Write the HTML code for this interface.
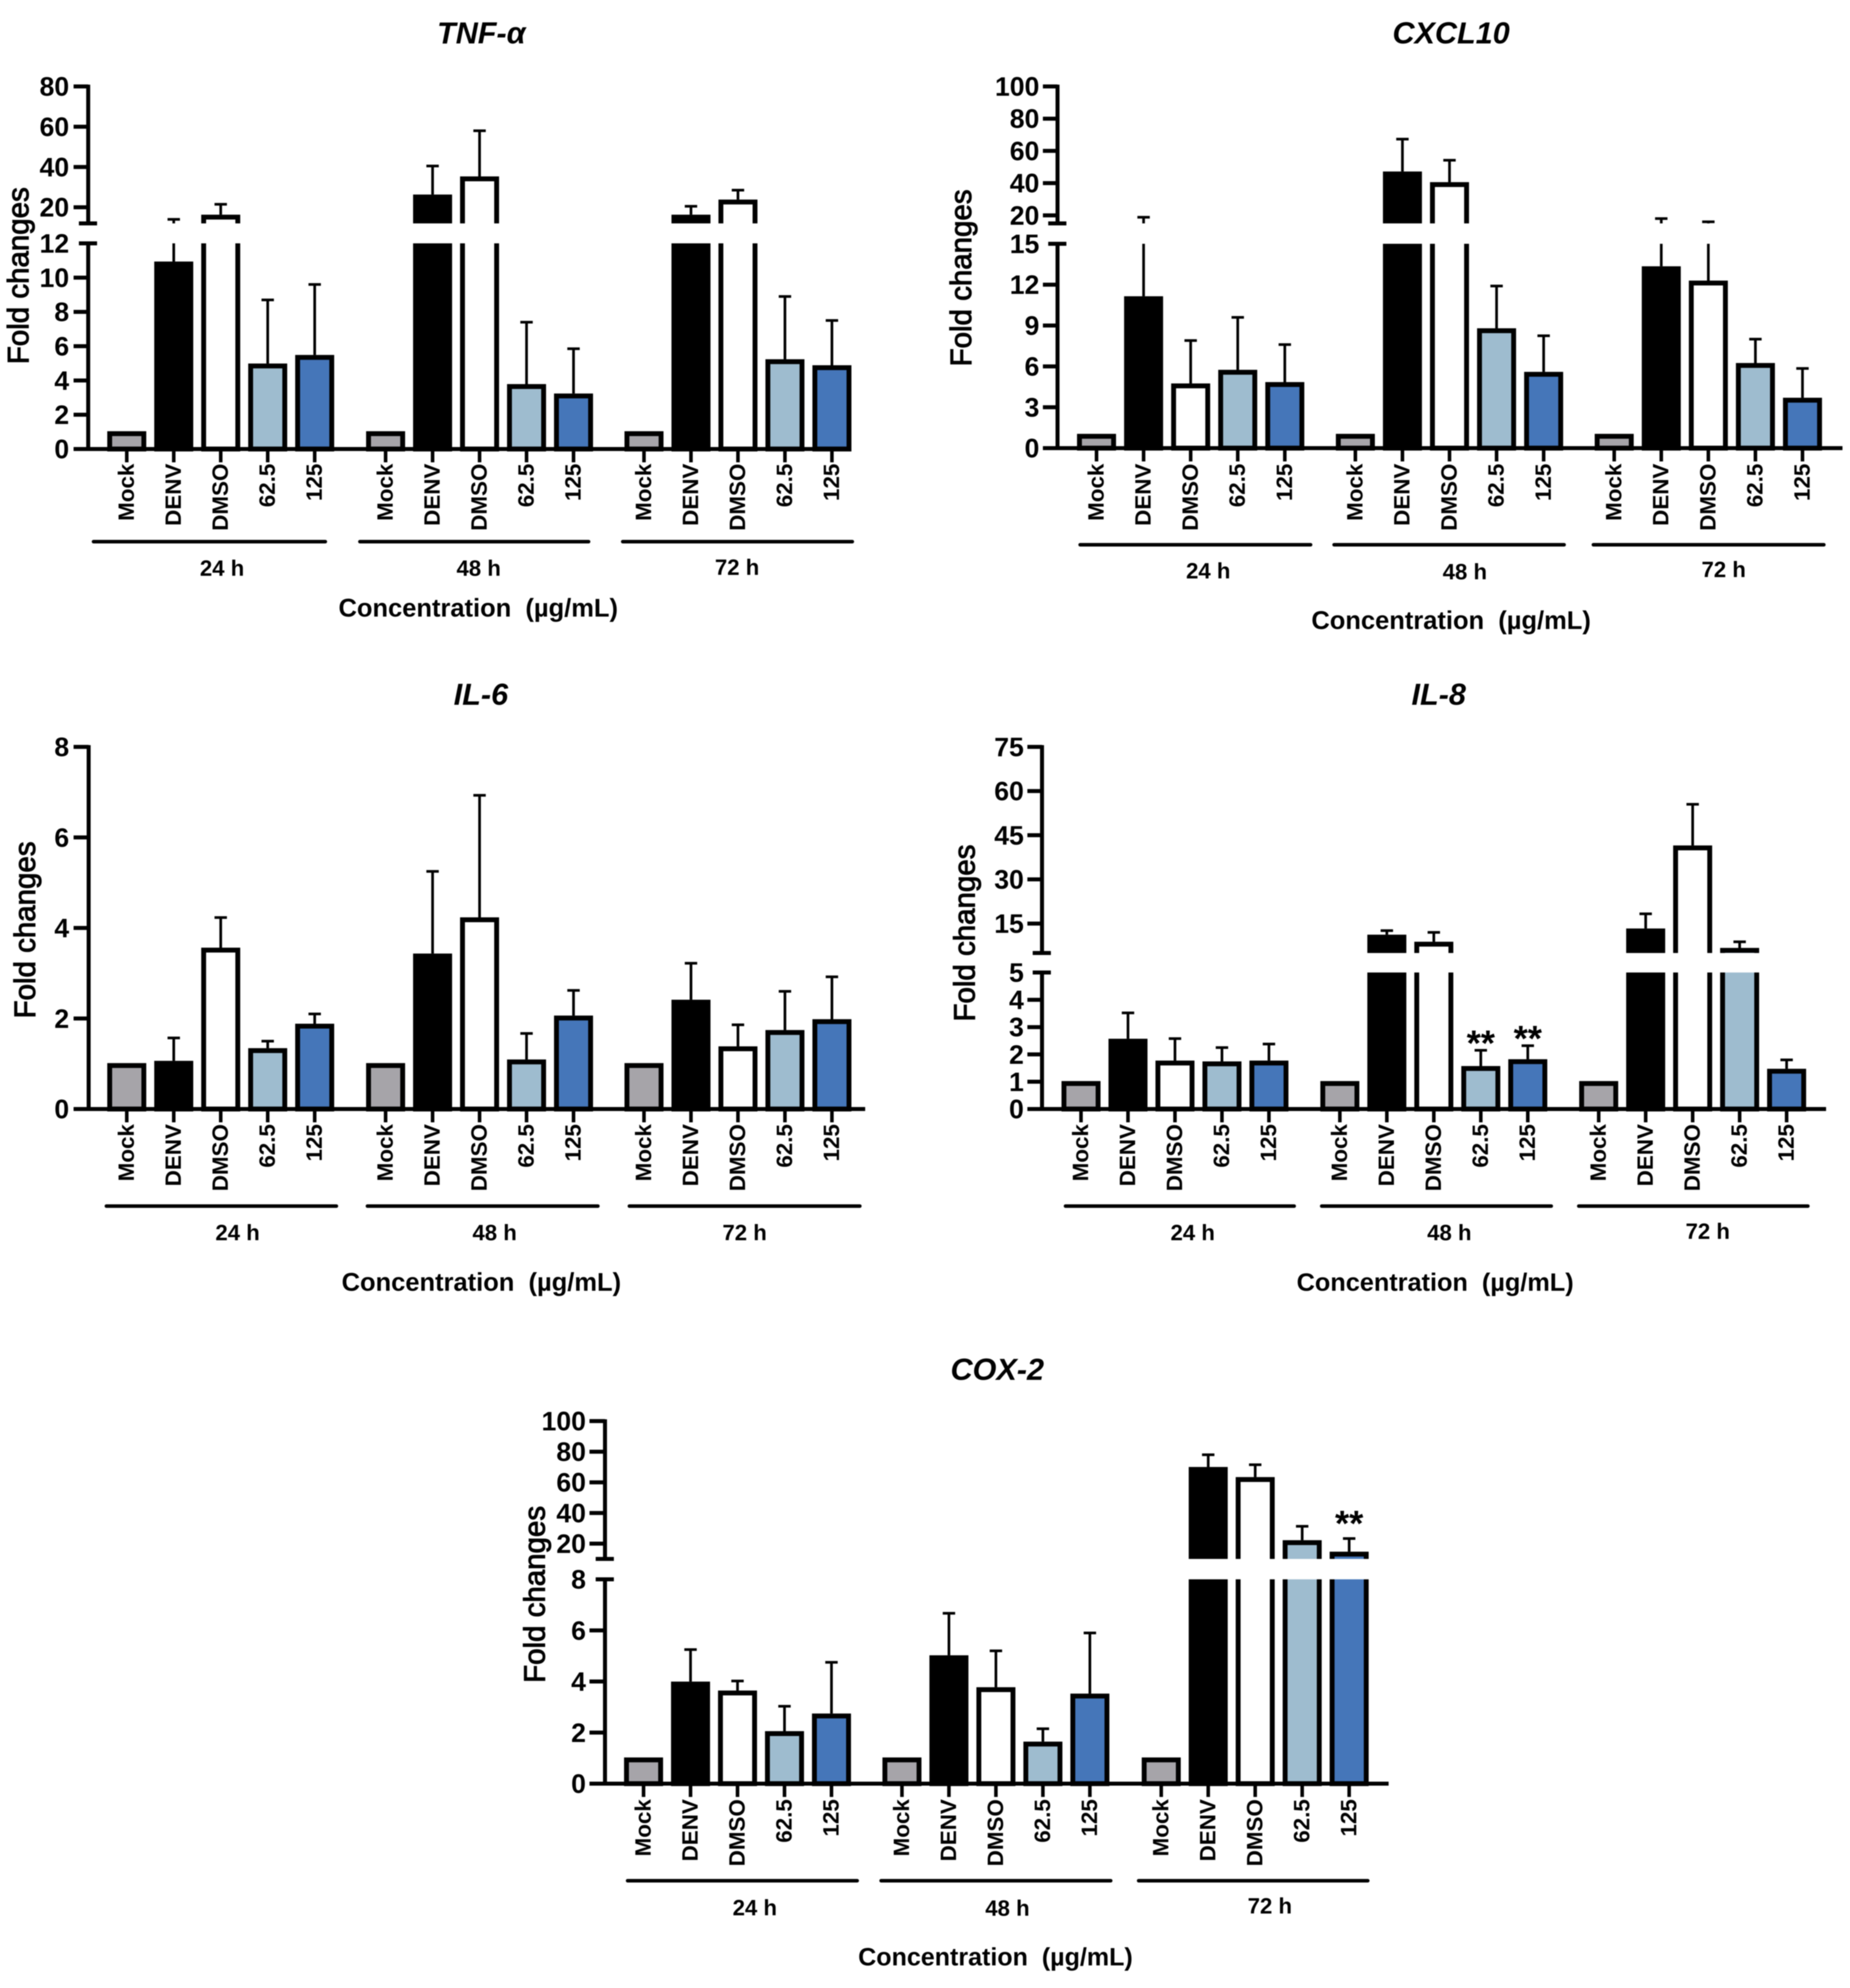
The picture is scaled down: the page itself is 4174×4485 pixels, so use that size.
<!DOCTYPE html>
<html lang="en">
<head>
<meta charset="utf-8">
<title>Fold changes of cytokines</title>
<style>
html,body{margin:0;padding:0;background:#fff;}
svg{display:block;filter:blur(1px);}
text{font-family:"Liberation Sans",sans-serif;fill:#000;}
.title{font-size:69px;font-weight:bold;font-style:italic;text-anchor:middle;}
.ytitle{font-size:66.5px;text-anchor:middle;stroke:#000;stroke-width:2px;}
.xtitle{font-size:57.5px;font-weight:bold;text-anchor:middle;}
.group{font-size:50px;font-weight:bold;text-anchor:middle;}
.gline{stroke:#000;stroke-width:8;stroke-linecap:round;}
</style>
</head>
<body>
<svg id="figure" xmlns="http://www.w3.org/2000/svg" width="4174" height="4485" viewBox="0 0 4174 4485">
<rect width="4174" height="4485" fill="#fff"/>

<g id="tnf">
<text class="title" x="1086" y="98">TNF-α</text>
<text class="ytitle" transform="translate(64,622) rotate(-90)">Fold changes</text>
<line class="gline" x1="211" y1="1222" x2="734" y2="1222"/>
<line class="gline" x1="812" y1="1222" x2="1328" y2="1222"/>
<line class="gline" x1="1405" y1="1222" x2="1923" y2="1222"/>
<text class="group" x="501" y="1299">24 h</text>
<text class="group" x="1080" y="1299">48 h</text>
<text class="group" x="1663" y="1297">72 h</text>
<text class="xtitle" x="1079" y="1391">Concentration&#160;&#160;(µg/mL)</text>
</g>

<g id="cxcl">
<text class="title" x="3274" y="98">CXCL10</text>
<text class="ytitle" transform="translate(2191,627) rotate(-90)">Fold changes</text>
<line class="gline" x1="2437" y1="1229" x2="2957" y2="1229"/>
<line class="gline" x1="3010" y1="1229" x2="3529" y2="1229"/>
<line class="gline" x1="3595" y1="1229" x2="4115" y2="1229"/>
<text class="group" x="2726" y="1305">24 h</text>
<text class="group" x="3305" y="1307">48 h</text>
<text class="group" x="3889" y="1302">72 h</text>
<text class="xtitle" x="3274" y="1419">Concentration&#160;&#160;(µg/mL)</text>
</g>

<g id="il6">
<text class="title" x="1085" y="1590">IL-6</text>
<text class="ytitle" transform="translate(79,2098) rotate(-90)">Fold changes</text>
<line class="gline" x1="240" y1="2721" x2="759" y2="2721"/>
<line class="gline" x1="829" y1="2721" x2="1349" y2="2721"/>
<line class="gline" x1="1420" y1="2721" x2="1940" y2="2721"/>
<text class="group" x="536" y="2798">24 h</text>
<text class="group" x="1116" y="2798">48 h</text>
<text class="group" x="1680" y="2798">72 h</text>
<text class="xtitle" x="1086" y="2912">Concentration&#160;&#160;(µg/mL)</text>
</g>

<g id="il8">
<text class="title" x="3246" y="1590">IL-8</text>
<text class="ytitle" transform="translate(2199,2105) rotate(-90)">Fold changes</text>
<line class="gline" x1="2404" y1="2721" x2="2920" y2="2721"/>
<line class="gline" x1="2982" y1="2721" x2="3500" y2="2721"/>
<line class="gline" x1="3562" y1="2721" x2="4079" y2="2721"/>
<text class="group" x="2691" y="2798">24 h</text>
<text class="group" x="3270" y="2798">48 h</text>
<text class="group" x="3853" y="2795">72 h</text>
<text class="xtitle" x="3238" y="2912" style="font-size:57px">Concentration&#160;&#160;(µg/mL)</text>
</g>

<g id="cox">
<text class="title" x="2250" y="3113">COX-2</text>
<text class="ytitle" transform="translate(1229,3597) rotate(-90)">Fold changes</text>
<line class="gline" x1="1416" y1="4243" x2="1934" y2="4243"/>
<line class="gline" x1="1988" y1="4243" x2="2506" y2="4243"/>
<line class="gline" x1="2569" y1="4243" x2="3086" y2="4243"/>
<text class="group" x="1703" y="4321">24 h</text>
<text class="group" x="2273" y="4322">48 h</text>
<text class="group" x="2865" y="4317">72 h</text>
<text class="xtitle" x="2246" y="4434" style="font-size:56.5px">Concentration&#160;&#160;(µg/mL)</text>
</g>
</svg>

<script>
const categories = ['Mock', 'DENV', 'DMSO', '62.5', '125'];
const categoryKeys = ['mock', 'denv', 'dmso', 'dose-62-5', 'dose-125'];
const timeKeys = ['24h', '48h', '72h'];
const categoryFills = ['#a6a4a9', '#000000', '#ffffff', '#9ebccf', '#4576b9'];

const tnfValues = [1, 10.9, 16, 4.95, 5.45, 1, 26, 35, 3.75, 3.2, 1, 16, 23.5, 5.2, 4.85];
const tnfErrorTops = [1, 14, 21.5, 8.7, 9.6, 1, 40.5, 58, 7.4, 5.85, 1, 20.5, 28.5, 8.9, 7.5];
const tnfLowerTicks = [0, 2, 4, 6, 8, 10, 12];
const tnfUpperTicks = [20, 40, 60, 80];
const tnfMarks = ['', '', '', '', '', '', '', '', '', '', '', '', '', '', ''];

const cxclValues = [1, 11.1, 4.7, 5.7, 4.8, 1, 46.8, 40.2, 8.75, 5.55, 1, 13.3, 12.25, 6.2, 3.65];
const cxclErrorTops = [1, 18.8, 7.9, 9.6, 7.6, 1, 67.3, 54.2, 11.9, 8.25, 1, 18, 16, 8, 5.85];
const cxclLowerTicks = [0, 3, 6, 9, 12, 15];
const cxclUpperTicks = [20, 40, 60, 80, 100];
const cxclMarks = ['', '', '', '', '', '', '', '', '', '', '', '', '', '', ''];

const il6Values = [1, 1.05, 3.55, 1.33, 1.87, 1, 3.42, 4.22, 1.08, 2.05, 1, 2.4, 1.37, 1.73, 1.97];
const il6ErrorTops = [1, 1.57, 4.23, 1.5, 2.1, 1, 5.25, 6.93, 1.67, 2.62, 1, 3.22, 1.86, 2.6, 2.92];
const il6LowerTicks = [0, 2, 4, 6, 8];
const il6UpperTicks = [];
const il6Marks = ['', '', '', '', '', '', '', '', '', '', '', '', '', '', ''];

const il8Values = [1, 2.55, 1.75, 1.72, 1.75, 1, 11, 8.6, 1.55, 1.8, 1, 13.1, 41.3, 6.5, 1.45];
const il8ErrorTops = [1, 3.52, 2.58, 2.25, 2.38, 1, 12.6, 12, 2.15, 2.32, 1, 18.3, 55.5, 8.8, 1.8];
const il8LowerTicks = [0, 1, 2, 3, 4, 5];
const il8UpperTicks = [15, 30, 45, 60, 75];
const il8Marks = ['', '', '', '', '', '', '', '', '**', '**', '', '', '', '', ''];

const coxValues = [1, 3.97, 3.62, 2.03, 2.72, 1, 5, 3.75, 1.62, 3.5, 1, 69.6, 63, 21.8, 14.3];
const coxErrorTops = [1, 5.25, 4.02, 3.03, 4.75, 1, 6.67, 5.2, 2.15, 5.9, 1, 78, 71.5, 31.3, 23.3];
const coxLowerTicks = [0, 2, 4, 6, 8];
const coxUpperTicks = [20, 40, 60, 80, 100];
const coxMarks = ['', '', '', '', '', '', '', '', '', '', '', '', '', '', '**'];

const panels = [
  { id: 'tnf', values: tnfValues, tops: tnfErrorTops, marks: tnfMarks, lowerTicks: tnfLowerTicks, upperTicks: tnfUpperTicks,
    frame: { axisX: 199, tickX: 166, labelX: 156, endX: 1921, y0: 1013, lowerTopY: 549, breakY: 504, upperTopY: 195, lowerMax: 12, upperMin: 12, upperMax: 80, starts: [286, 870, 1453], step: 106, catY: 1046, starLift: 30 } },
  { id: 'cxcl', values: cxclValues, tops: cxclErrorTops, marks: cxclMarks, lowerTicks: cxclLowerTicks, upperTicks: cxclUpperTicks,
    frame: { axisX: 2386, tickX: 2353, labelX: 2345, endX: 4157, y0: 1011, lowerTopY: 550, breakY: 504, upperTopY: 195, lowerMax: 15, upperMin: 15, upperMax: 100, starts: [2474, 3058, 3642], step: 106.2, catY: 1046, starLift: 30 } },
  { id: 'il6', values: il6Values, tops: il6ErrorTops, marks: il6Marks, lowerTicks: il6LowerTicks, upperTicks: il6UpperTicks,
    frame: { axisX: 200, tickX: 166, labelX: 156, endX: 1952, y0: 2502, lowerTopY: 1685, breakY: null, upperTopY: null, lowerMax: 8, upperMin: 8, upperMax: 8, starts: [286, 870, 1453], step: 106, catY: 2536, starLift: 30 } },
  { id: 'il8', values: il8Values, tops: il8ErrorTops, marks: il8Marks, lowerTicks: il8LowerTicks, upperTicks: il8UpperTicks,
    frame: { axisX: 2351, tickX: 2318, labelX: 2310, endX: 4120, y0: 2502, lowerTopY: 2194, breakY: 2150, upperTopY: 1685, lowerMax: 5, upperMin: 5, upperMax: 75, starts: [2439, 3023, 3607], step: 106, catY: 2536, starLift: 33 } },
  { id: 'cox', values: coxValues, tops: coxErrorTops, marks: coxMarks, lowerTicks: coxLowerTicks, upperTicks: coxUpperTicks,
    frame: { axisX: 1365, tickX: 1330, labelX: 1322, endX: 3133, y0: 4024, lowerTopY: 3563, breakY: 3517, upperTopY: 3206, lowerMax: 8, upperMin: 10, upperMax: 100, starts: [1452, 2035, 2620], step: 106, catY: 4059, starLift: 51 } }
];

const SVGNS = 'http://www.w3.org/2000/svg';
const BAR_WIDTH = 88;
const BAR_STROKE = 11;
const BAR_RAISE = 1.5;

function make(tag, attrs, parent) {
  const node = document.createElementNS(SVGNS, tag);
  for (const key in attrs) node.setAttribute(key, attrs[key]);
  parent.appendChild(node);
  return node;
}

function yScale(f, v) {
  if (f.breakY === null || v <= f.lowerMax) {
    return f.y0 - (v / f.lowerMax) * (f.y0 - f.lowerTopY);
  }
  const upper = Math.max(v, f.upperMin);
  return f.breakY - ((upper - f.upperMin) / (f.upperMax - f.upperMin)) * (f.breakY - f.upperTopY);
}

function xScale(f, index) {
  const group = Math.floor(index / categories.length);
  const slot = index % categories.length;
  return f.starts[group] + slot * f.step;
}

function drawPanel(p) {
  const root = document.getElementById(p.id);
  const f = p.frame;

  p.values.forEach(function (value, i) {
    const cx = xScale(f, i);
    const slot = i % categories.length;
    const timeKey = timeKeys[Math.floor(i / categories.length)];
    const top = yScale(f, value) - BAR_RAISE;
    const errTop = yScale(f, p.tops[i]);

    if (p.tops[i] > value) {
      const stem = make('line', { x1: cx, x2: cx, y1: top, y2: errTop, stroke: '#000', 'stroke-width': 6 }, root);
      
      
      const cap = make('line', { x1: cx - 14, x2: cx + 14, y1: errTop, y2: errTop, stroke: '#000', 'stroke-width': 6 }, root);
      
      
    }

    const bar = make('rect', {
      x: cx - BAR_WIDTH / 2 + BAR_STROKE / 2,
      y: top + BAR_STROKE / 2,
      width: BAR_WIDTH - BAR_STROKE,
      height: Math.max(0, f.y0 - top - BAR_STROKE / 2),
      fill: categoryFills[slot],
      stroke: '#000',
      'stroke-width': BAR_STROKE
    }, root);
    
    

    if (p.marks[i]) {
      const star = make('text', { x: cx, y: errTop - f.starLift + 45, 'text-anchor': 'middle', 'font-size': 82, 'font-weight': 'bold' }, root);
      star.textContent = p.marks[i];
      
      
    }

    const tick = make('line', { x1: cx, x2: cx, y1: f.y0, y2: f.y0 + 30, stroke: '#000', 'stroke-width': 8 }, root);
    
    

    const label = make('text', {
      transform: 'translate(' + (cx + 16) + ',' + f.catY + ') rotate(-90)',
      'text-anchor': 'end',
      'font-size': 50.5,
      'font-weight': 'bold'
    }, root);
    label.textContent = categories[slot];
    
    
  });

  if (f.breakY !== null) {
    const gap = make('rect', { x: f.axisX - 30, y: f.breakY, width: f.endX - f.axisX + 30, height: f.lowerTopY - f.breakY, fill: '#fff' }, root);
    
    
  }

  const lowerAxis = make('line', { x1: f.axisX, x2: f.axisX, y1: f.lowerTopY - 4, y2: f.y0 + 4, stroke: '#000', 'stroke-width': 9 }, root);
  
  

  const xAxis = make('line', { x1: f.tickX, x2: f.endX, y1: f.y0, y2: f.y0, stroke: '#000', 'stroke-width': 9 }, root);
  
  

  if (f.breakY !== null) {
    const upperAxis = make('line', { x1: f.axisX, x2: f.axisX, y1: f.upperTopY - 4, y2: f.breakY, stroke: '#000', 'stroke-width': 9 }, root);
    
    
    [f.breakY, f.lowerTopY].forEach(function (yy) {
      const mark = make('line', { x1: f.axisX - 21, x2: f.axisX + 20, y1: yy, y2: yy, stroke: '#000', 'stroke-width': 9 }, root);
      
      
    });
  }

  p.lowerTicks.concat(p.upperTicks).forEach(function (t, i) {
    const isUpper = i >= p.lowerTicks.length;
    const yy = isUpper
      ? f.breakY - ((t - f.upperMin) / (f.upperMax - f.upperMin)) * (f.breakY - f.upperTopY)
      : f.y0 - (t / f.lowerMax) * (f.y0 - f.lowerTopY);
    const isBreakTick = f.breakY !== null && !isUpper && t === f.lowerMax;
    if (t !== 0 && !isBreakTick) {
      const tick = make('line', { x1: f.tickX, x2: f.axisX, y1: yy, y2: yy, stroke: '#000', 'stroke-width': 9 }, root);
      
      
    }
    const label = make('text', { x: f.labelX, y: yy + 21, 'text-anchor': 'end', 'font-size': 60, 'font-weight': 'bold' }, root);
    label.textContent = String(t);
    
    
  });
}

panels.forEach(drawPanel);
</script>
</body>
</html>
